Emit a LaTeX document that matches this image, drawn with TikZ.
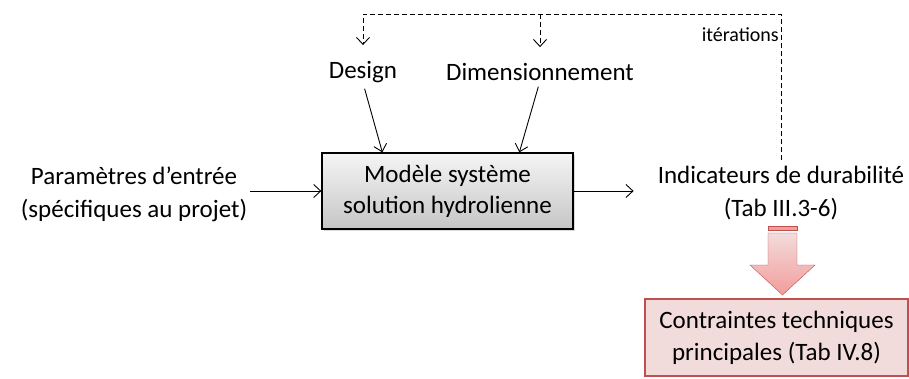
\documentclass[tikz,border=0pt]{standalone}
\usepackage{fontspec}
\setmainfont{Carlito}
\usetikzlibrary{arrows.meta, positioning, shadows}
\definecolor{redline}{HTML}{C0504D}
\definecolor{redfill}{HTML}{F2DCDB}
\definecolor{pinkarrow}{HTML}{F29C9B}

\begin{document}
\begin{tikzpicture}[
    x=1pt, y=-1pt,
    txt/.style={align=center, font=\fontsize{25}{33}\selectfont, inner sep=0pt},
    model/.style={rectangle, draw=black, line width=1.3pt, top color=gray!8, bottom color=gray!45, minimum width=251pt, minimum height=76pt, align=center, font=\fontsize{25}{31}\selectfont, drop shadow={opacity=0.3}},
    outbox/.style={rectangle, draw=redline, fill=redfill, line width=1.5pt, minimum width=263pt, minimum height=77pt, align=center, font=\fontsize{25}{32}\selectfont},
    arrow/.style={-{Straight Barb[length=7pt, width=13pt]}, line width=0.9pt},
    loop/.style={arrow, dashed, dash pattern=on 5pt off 3pt},
]
\useasboundingbox (0,0) rectangle (909,378);

% Nodes
\node[model] (model) at (447.5,191) {Modèle système\\solution hydrolienne};
\node[txt] (param) at (134,194) {Paramètres d’entrée\\(spécifiques au projet)};
\node[txt] (ind) at (781,193) {Indicateurs de durabilité\\(Tab III.3-6)};
\node[txt] (design) at (363,72) {Design};
\node[txt] (dimension) at (540,72) {Dimensionnement};
\node[txt, font=\fontsize{20}{22}\selectfont, anchor=east] (iter) at (779,35) {itérations};
\node[outbox] (contr) at (776.5,337.5) {Contraintes techniques\\principales (Tab IV.8)};

% Arrows
\draw[arrow, shorten <=3pt] (param.east |- model) -- (model.west);
\draw[arrow, shorten >=24pt] (model.east) -- (ind.west |- model);
\draw[arrow, shorten <=6pt] (design.south) -- ([xshift=61pt]model.north west);
\draw[arrow, shorten <=6pt] (dimension.south) -- ([xshift=198pt]model.north west);

% Iteration loop
\draw[loop, shorten <=6pt, shorten >=16pt] (ind.north) -- (ind.north |- 0,14) -| (design.north);
\draw[loop, shorten >=16pt] (dimension.north |- 0,14) -- (dimension.north);

% Block arrow
\draw[draw=redline, top color=redfill, bottom color=pinkarrow] (768,233) -- (797,233) -- (797,265) -- (815,265) -- (782.5,295) -- (750,265) -- (768,265) -- cycle;
\draw[draw=redline, fill=pinkarrow] (768,226) rectangle (797,230);

\end{tikzpicture}
\end{document}
